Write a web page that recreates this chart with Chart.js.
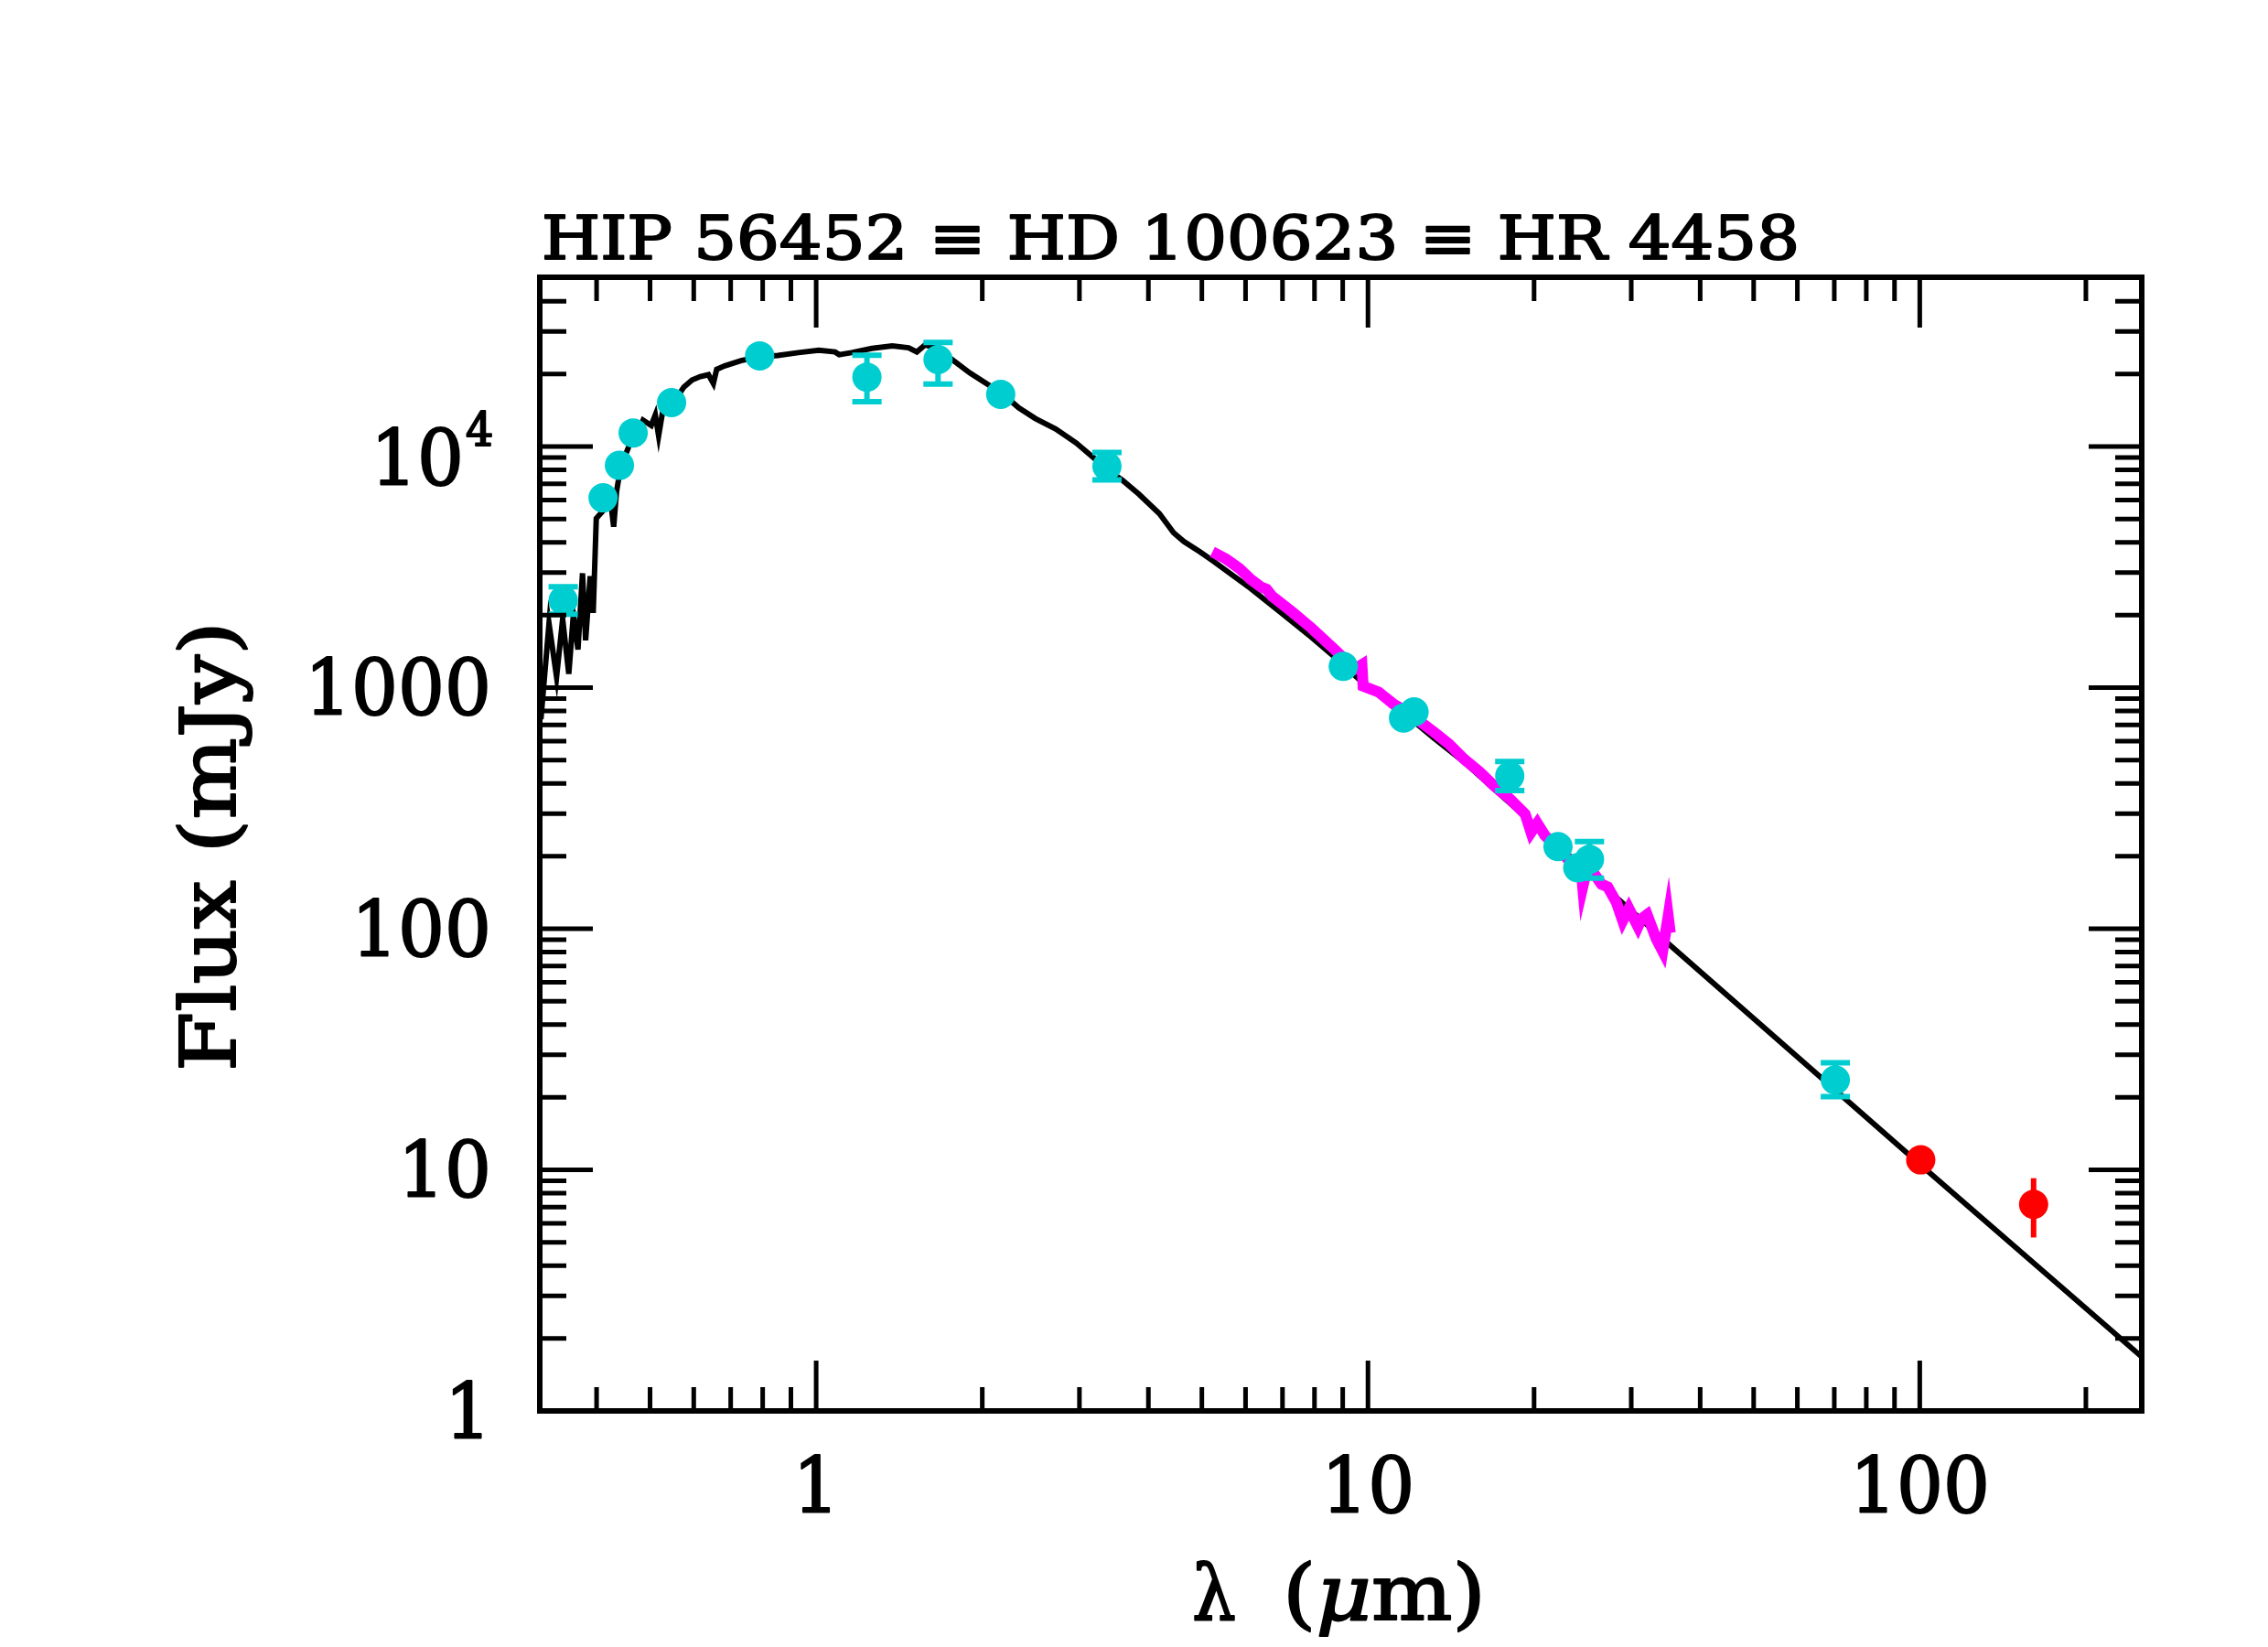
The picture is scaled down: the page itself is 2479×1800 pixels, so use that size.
<!DOCTYPE html>
<html>
<head>
<meta charset="utf-8">
<script src="https://cdn.jsdelivr.net/npm/chart.js@4/dist/chart.umd.min.js"></script>
<style>
	body { margin: 0; background: #fff; }
	canvas { display: block; }
</style>
</head>
<body>
<canvas id="sed-chart" width="2479" height="1800" style="width:2479px;height:1800px"></canvas>
<script>
const titleText = 'HIP 56452 \u2261 HD 100623 \u2261 HR 4458';

// photosphere model (black)
const modelWave = [0.3171, 0.328, 0.3385, 0.3472, 0.3562, 0.3631, 0.3701, 0.3772, 0.3821, 0.3895, 0.3944, 0.3995,
	0.413, 0.4237, 0.4296, 0.4347, 0.4422, 0.4576, 0.4694, 0.4857, 0.5025, 0.5111, 0.5182, 0.5271, 0.5566, 0.5759,
	0.5959, 0.6166, 0.638, 0.6512, 0.6602, 0.683, 0.7311, 0.7825, 0.8523, 0.9284, 1.011, 1.082, 1.101, 1.159, 1.262,
	1.374, 1.471, 1.522, 1.575, 1.657, 1.774, 1.899, 2.033, 2.177, 2.33, 2.495, 2.717, 2.959, 3.168, 3.391, 3.591,
	3.844, 4.187, 4.444, 4.638, 4.965, 5.24, 6.13, 6.96, 7.9, 8.64, 9.8, 11.29, 13.15, 14.94, 16.96, 35.2, 100.4, 253];
const modelFlux = [740, 1844, 1108, 1925, 1140, 2012, 1439, 2980, 1571, 2895, 2042, 5030,
	5485, 6066, 4644, 6488, 8188, 10010, 10700, 12850, 12230, 13520, 11070, 13990, 15720, 17660,
	18880, 19510, 19860, 18270, 20880, 21600, 22700, 23470, 23860, 24510, 25100, 24670, 24040, 24510, 25510,
	26120, 25670, 24670, 26380, 25510, 22700, 20190, 18270, 16520, 14460, 13070, 11830, 10350, 9058, 7925, 7244,
	6343, 5274, 4390, 4036, 3650, 3350, 2578, 2042, 1618, 1358, 1045, 828, 619, 491, 378, 85.9, 10.47, 1.67];

// IRS spectrum (magenta)
const irsWave = [5.225, 5.53, 5.85, 6.13, 6.4, 6.55, 6.7, 7.32, 7.9, 8.64, 9.02, 9.5, 9.75, 9.8, 10.46, 11.14, 11.8,
	13.15, 14.01, 14.94, 15.91, 16.96, 18.07, 19.27, 19.75, 20.27, 20.92, 22.0, 23.5, 24.4, 24.5, 24.8, 25.8, 26.5,
	27.2, 28.2, 28.95, 29.7, 30.85, 31.3, 32.05, 33.3, 34.2, 35.0, 35.3];
const irsFlux = [3655, 3420, 3120, 2812, 2614, 2560, 2395, 2042, 1765, 1461, 1330, 1200, 1245, 1015, 958, 853, 790,
	656, 584, 505, 449, 390, 346, 299, 251, 274, 244, 217, 185, 165, 149, 168, 167, 153,
	149, 128.6, 108, 121.4, 102, 110, 114.5, 90.7, 80.7, 112.8, 96.2];

// photometry (cyan)
const photWave = [0.348, 0.411, 0.44, 0.466, 0.547, 0.79, 1.236, 1.663, 2.16, 3.365, 9.02, 11.6, 12.12, 18.07, 22.1, 24.0, 25.2, 70.3];
const photFlux = [2300, 6124, 8354, 11380, 15210, 23770, 19400, 22930, 16460, 8280, 1225, 748, 793, 430, 219, 179, 194, 23.6];
const photLo = [2015, null, null, null, null, null, 15350, 18140, null, 7260, null, null, null, 374, null, null, 162, 20.1];
const photHi = [2620, null, null, null, null, null, 23880, 26990, null, 9440, null, null, null, 494, null, null, 230, 27.8];

// far-IR photometry (red)
const farWave = [100.4, 160.8];
const farFlux = [11.0, 7.19];
const farLo = [null, 5.24];
const farHi = [null, 9.23];

const xMajorTicks = [1, 10, 100];
const xMinorTicks = [0.4, 0.5, 0.6, 0.7, 0.8, 0.9, 2, 3, 4, 5, 6, 7, 8, 9, 20, 30, 40, 50, 60, 70, 80, 90, 200];
const xTickLabels = ['1', '10', '100'];
const yMajorTicks = [1, 10, 100, 1000, 10000];
const yMinorTicks = [2, 3, 4, 5, 6, 7, 8, 9, 20, 30, 40, 50, 60, 70, 80, 90, 200, 300, 400, 500, 600, 700, 800, 900,
	2000, 3000, 4000, 5000, 6000, 7000, 8000, 9000, 20000, 30000, 40000];
const yTickLabels = ['1', '10', '100', '1000', '10^4'];

const pts = (xs, ys) => xs.map((x, i) => ({ x, y: ys[i] }));

const serif = '"DejaVu Serif", "Liberation Serif", serif';

// draw text squeezed/stretched to a given advance width, slightly stroked for weight
function fitText(ctx, text, x, y, font, width, align) {
	ctx.font = font;
	const w = ctx.measureText(text).width;
	ctx.save();
	ctx.translate(x, y);
	ctx.scale(width / w, 1);
	ctx.textAlign = align || 'left';
	ctx.lineWidth = 2;
	ctx.lineJoin = 'round';
	ctx.fillText(text, 0, 0);
	ctx.strokeText(text, 0, 0);
	ctx.restore();
}

const errorBars = {
	id: 'errorBars',
	afterDatasetsDraw(chart) {
		const { ctx, scales: { x, y } } = chart;
		ctx.save();
		chart.data.datasets.forEach((ds) => {
			if (!ds.errLo) return;
			ctx.strokeStyle = ds.backgroundColor;
			ctx.lineWidth = 6;
			ds.data.forEach((p, i) => {
				if (ds.errLo[i] == null) return;
				const px = x.getPixelForValue(p.x);
				const lo = y.getPixelForValue(ds.errLo[i]);
				const hi = y.getPixelForValue(ds.errHi[i]);
				ctx.beginPath();
				ctx.moveTo(px, lo);
				ctx.lineTo(px, hi);
				if (ds.caps) {
					ctx.moveTo(px - 16, lo);
					ctx.lineTo(px + 16, lo);
					ctx.moveTo(px - 16, hi);
					ctx.lineTo(px + 16, hi);
				}
				ctx.stroke();
			});
		});
		ctx.restore();
	},
};

const frame = {
	id: 'frame',
	beforeDraw(chart) {
		const { ctx } = chart;
		ctx.save();
		ctx.fillStyle = '#fff';
		ctx.fillRect(0, 0, chart.width, chart.height);
		ctx.restore();
	},
	afterDraw(chart) {
		const { ctx, chartArea: a, scales: { x, y } } = chart;
		ctx.save();
		ctx.strokeStyle = '#000';
		ctx.fillStyle = '#000';
		ctx.lineWidth = 5;
		ctx.beginPath();
		const xt = (v, len) => {
			const px = x.getPixelForValue(v);
			ctx.moveTo(px, a.bottom);
			ctx.lineTo(px, a.bottom - len);
			ctx.moveTo(px, a.top);
			ctx.lineTo(px, a.top + len);
		};
		const yt = (v, len) => {
			const py = y.getPixelForValue(v);
			ctx.moveTo(a.left, py);
			ctx.lineTo(a.left + len, py);
			ctx.moveTo(a.right, py);
			ctx.lineTo(a.right - len, py);
		};
		xMajorTicks.forEach((v) => xt(v, 55));
		xMinorTicks.forEach((v) => xt(v, 26));
		yMajorTicks.forEach((v) => yt(v, 58));
		yMinorTicks.forEach((v) => yt(v, 29));
		ctx.stroke();
		ctx.lineWidth = 6;
		ctx.strokeRect(a.left, a.top, a.right - a.left, a.bottom - a.top);

		// tick labels
		const tickFont = '84px ' + serif;
		ctx.font = tickFont;
		const sx = 204 / ctx.measureText('1000').width;
		xMajorTicks.forEach((v, i) => {
			const t = xTickLabels[i];
			ctx.font = tickFont;
			fitText(ctx, t, x.getPixelForValue(v), 1653, tickFont, ctx.measureText(t).width * sx, 'center');
		});
		yMajorTicks.forEach((v, i) => {
			const py = y.getPixelForValue(v);
			const t = yTickLabels[i];
			ctx.font = tickFont;
			if (t.includes('^')) {
				const [b, e] = t.split('^');
				fitText(ctx, b, 507, py + 42, tickFont, ctx.measureText(b).width * sx, 'right');
				const supFont = '50px ' + serif;
				ctx.font = supFont;
				fitText(ctx, e, 509, py - 1, supFont, ctx.measureText(e).width * sx, 'left');
			} else {
				fitText(ctx, t, 537, py + 30, tickFont, ctx.measureText(t).width * sx, 'right');
			}
		});

		// title
		fitText(ctx, titleText, 592, 283, '66px ' + serif, 1375, 'left');

		// y axis title
		ctx.save();
		ctx.translate(257, 925);
		ctx.rotate(-Math.PI / 2);
		fitText(ctx, 'Flux (mJy)', 0, 0, '84px ' + serif, 492, 'center');
		ctx.restore();

		// x axis title: lambda, then (mu m) with italic mu
		const lf = '84px ' + serif;
		const itf = 'italic 84px ' + serif;
		fitText(ctx, '\u03bb', 1303, 1770, lf, 48, 'left');
		const parts = [['(', lf], ['\u03bc', itf], ['m)', lf]];
		let total = 0;
		parts.forEach(([s, f]) => { ctx.font = f; total += ctx.measureText(s).width; });
		const k = 222 / total;
		let cx = 1402;
		parts.forEach(([s, f]) => {
			ctx.font = f;
			const w = ctx.measureText(s).width * k;
			fitText(ctx, s, cx, 1770, f, w, 'left');
			cx += w;
		});
		ctx.restore();
	},
};

new Chart('sed-chart', {
	type: 'scatter',
	data: {
		datasets: [
			{
				label: 'model',
				data: pts(modelWave, modelFlux),
				showLine: true,
				borderColor: '#000',
				borderWidth: 6,
				pointRadius: 0,
				order: 4,
			},
			{
				label: 'IRS',
				data: pts(irsWave, irsFlux),
				showLine: true,
				borderColor: '#ff00ff',
				borderWidth: 12,
				pointRadius: 0,
				order: 3,
			},
			{
				label: 'photometry',
				data: pts(photWave, photFlux),
				errLo: photLo,
				errHi: photHi,
				caps: true,
				backgroundColor: '#00cdd0',
				borderWidth: 0,
				pointRadius: 16,
				order: 2,
			},
			{
				label: 'far-IR',
				data: pts(farWave, farFlux),
				errLo: farLo,
				errHi: farHi,
				caps: false,
				backgroundColor: '#ff0000',
				borderWidth: 0,
				pointRadius: 16,
				order: 1,
			},
		],
	},
	options: {
		responsive: false,
		maintainAspectRatio: false,
		animation: false,
		devicePixelRatio: 1,
		layout: {
			padding: { left: 590, right: 138, top: 303, bottom: 258 },
		},
		scales: {
			x: { type: 'logarithmic', bounds: 'data', min: 0.3156, max: 252.5, display: false },
			y: { type: 'logarithmic', bounds: 'data', min: 1, max: 50350, display: false },
		},
		plugins: {
			legend: { display: false },
			tooltip: { enabled: false },
			title: { display: false },
		},
	},
	plugins: [frame, errorBars],
});
</script>
</body>
</html>
